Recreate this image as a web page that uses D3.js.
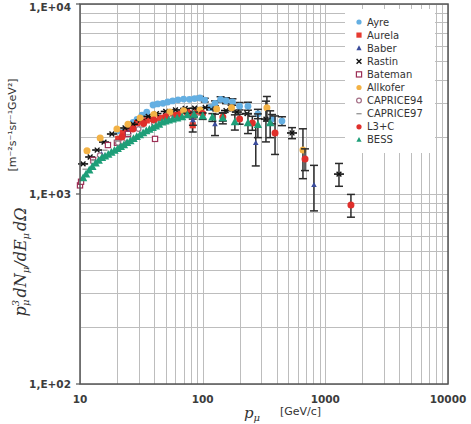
<!DOCTYPE html>
<html>
<head>
<meta charset="utf-8">
<script src="https://cdn.jsdelivr.net/npm/d3@7"></script>
<style>
  body { margin: 0; background: #fff; }
  svg { display: block; }
</style>
</head>
<body>
<div id="chart"></div>
<script>
// Each row: [momentum p (GeV/c), p^3 dN/dE dOmega (m^-2 s^-1 sr^-1 GeV^2), error]
const ayre = [[20.4,2150,0],[22.4,2110,0],[24.6,2250,0],[27.1,2380,0],[29.2,2470,0],[32,2600,0],[35,2700,0],
  [39.4,2940,0],[43,2980,0],[47.5,3000,0],[52,3050,0],[57,3090,0],[63,3130,0],[70,3160,0],[78,3150,0],
  [86,3180,0],[95,3200,60],[104,3120,70],[115,2850,80],[126,3000,90],[140,3150,100],[155,3100,110],
  [175,3050,120],[200,2900,130],[234,2900,140],[282,2640,150],[368,2480,140],[443,2420,130]];
const aurela = [[20.5,1950,0],[22.4,2095,0],[24.6,2180,0],[27.1,2280,0],[29.2,2364,0],[32,2410,0],[35,2440,0],
  [39,2480,0],[44.9,2512,0],[50,2560,0],[57.4,2605,0],[65,2650,0],[74.5,2700,0],[83,2300,180],[89.8,2700,0]];
const baber = [[15,1620,0],[25,2120,0],[40,2430,0],[60,2560,0],[83.3,2450,150],[126,2330,300],[271,1855,450],[808,1115,300]];
const rastin = [[10.6,1440,0],[12.1,1566,0],[13.8,1704,0],[15.7,1877,0],[18.2,2069,0],[23.3,2225,0],[27,2330,0],
  [31,2450,0],[36,2560,0],[42,2650,0],[50,2720,0],[60,2770,0],[72,2820,0],[86,2830,0],[105,2850,0],
  [126,2800,0],[155,2750,0],[190,2700,0],[230,2650,0],[328,2480,600],[535,2095,140],[1292,1273,175]];
const bateman = [[10,1110,0],[10.2,1160,0],[12.8,1510,0],[16.9,1810,0],[20,1860,0],[24.6,2070,0],[40.9,1950,0]];
const allkofer = [[11.4,1690,0],[14.6,1970,0],[20,2200,0],[24.6,2330,0],[30.9,2510,0],[40,2620,0],[54,2700,0],
  [70,2740,0],[95,2770,0],[130,2800,0],[172,2840,90],[334,2840,420],[657,1704,500]];
const caprice94 = [[12.8,1480,0],[14.5,1600,0],[20.4,1855,0],[22.4,1877,0],[30,2200,0],[40,2350,0],[55,2500,0]];
const caprice97 = [[11,1350,0],[13,1500,0],[16,1700,0],[20,1900,0],[25,2050,0],[32,2250,0],[42,2400,0],
  [55,2500,0],[70,2550,0],[90,2600,0]];
const l3c = [[22,2000,0],[27,2200,0],[33,2350,0],[40,2450,0],[50,2550,0],[62,2600,0],[78,2650,0],[100,2650,0],
  [146,2540,120],[200,2480,150],[254,2364,200],[389,2095,480],[683,1528,200],[1617,875,120]];
const bess = [[10.6,1214,0],[11.2,1270,0],[11.9,1330,0],[12.6,1390,0],[13.4,1450,0],[14.2,1500,0],[15.1,1550,0],
  [16.0,1580,0],[17.0,1610,0],[18.0,1650,0],[19.1,1690,0],[20.3,1730,0],[21.5,1770,0],[22.8,1810,0],
  [24.2,1860,0],[25.7,1900,0],[27.3,1950,0],[29.0,2000,0],[30.8,2040,0],[32.7,2090,0],[34.7,2140,0],
  [36.8,2180,0],[39.1,2230,0],[41.5,2270,0],[44.1,2320,0],[46.8,2380,0],[49.7,2410,0],[53,2440,0],
  [57,2470,0],[62,2500,0],[68,2540,0],[75,2600,60],[85,2620,80],[100,2570,100],[120,2530,120],
  [146,2510,170],[183,2390,220],[234,2360,280],[282,2310,330],[355,2360,380]];

const xTickLabels = ['10', '100', '1000', '10000'];
const yTickLabels = ['1,E+02', '1,E+03', '1,E+04'];

// Marker styling per data set, in legend order (later ones draw on top).
const series = [
  {name: 'Ayre', data: ayre, shape: 'circle', color: '#64afe2', r: 3.4},
  {name: 'Aurela', data: aurela, shape: 'square', color: '#e63a31', r: 3.1},
  {name: 'Baber', data: baber, shape: 'triangle', color: '#3b4c9c', r: 2.8},
  {name: 'Rastin', data: rastin, shape: 'x', color: '#111', r: 2.4},
  {name: 'Bateman', data: bateman, shape: 'osquare', color: '#9c2f55', r: 2.6},
  {name: 'Allkofer', data: allkofer, shape: 'circle', color: '#f3b245', r: 3.5},
  {name: 'CAPRICE94', data: caprice94, shape: 'ocircle', color: '#a56f86', r: 2.4},
  {name: 'CAPRICE97', data: caprice97, shape: 'dash', color: '#9a9a9a', r: 2.6},
  {name: 'L3+C', data: l3c, shape: 'circle', color: '#df2f2b', r: 3.5},
  {name: 'BESS', data: bess, shape: 'triangle', color: '#1e9e78', r: 4.2}
];

const W = 471, H = 424;
const m = {left: 80, right: 448, top: 4, bottom: 384};

const svg = d3.select('#chart').append('svg').attr('width', W).attr('height', H);

const x = d3.scaleLog().domain([10, 10000]).range([m.left, m.right]);
const y = d3.scaleLog().domain([100, 10000]).range([m.bottom, m.top]);

// Grid at every 1..9 multiple in both directions.
const grid = svg.append('g').attr('stroke', '#bdbdbd').attr('stroke-width', 1);
grid.selectAll('line.vx').data(x.ticks()).join('line')
  .attr('x1', d => Math.round(x(d)) + 0.5).attr('x2', d => Math.round(x(d)) + 0.5)
  .attr('y1', m.top).attr('y2', m.bottom);
grid.selectAll('line.hy').data(y.ticks()).join('line')
  .attr('y1', d => Math.round(y(d)) + 0.5).attr('y2', d => Math.round(y(d)) + 0.5)
  .attr('x1', m.left).attr('x2', m.right);

// Legend panel sits over the grid.
const legX = 345, legY = 9, legRow = 13.1;
svg.append('rect').attr('x', legX).attr('y', legY).attr('width', 90).attr('height', 144).attr('fill', '#fff');

function drawMarker(g, shape, color, r) {
  if (shape === 'circle') {
    g.append('circle').attr('r', r).attr('fill', color);
  } else if (shape === 'ocircle') {
    g.append('circle').attr('r', r).attr('fill', '#fff').attr('stroke', color).attr('stroke-width', 1.2);
  } else if (shape === 'square') {
    g.append('rect').attr('x', -r).attr('y', -r).attr('width', 2 * r).attr('height', 2 * r).attr('fill', color);
  } else if (shape === 'osquare') {
    g.append('rect').attr('x', -r).attr('y', -r).attr('width', 2 * r).attr('height', 2 * r)
      .attr('fill', '#fff').attr('stroke', color).attr('stroke-width', 1.2);
  } else if (shape === 'triangle') {
    g.append('path').attr('d', `M0,${-r * 1.1}L${r},${r * 0.75}L${-r},${r * 0.75}Z`).attr('fill', color);
  } else if (shape === 'x') {
    g.append('path').attr('d', `M${-r},${-r}L${r},${r}M${-r},${r}L${r},${-r}`)
      .attr('stroke', color).attr('stroke-width', 1.4);
  } else if (shape === 'dash') {
    g.append('line').attr('x1', -r).attr('x2', r).attr('stroke', color).attr('stroke-width', 1.4);
  }
}

const plot = svg.append('g');
series.forEach(s => {
  const g = plot.append('g').attr('class', 'series');
  // Vertical error bars with caps.
  const errs = s.data.filter(d => d[2] > 0);
  const eb = g.selectAll('g.err').data(errs).join('g').attr('class', 'err')
    .attr('stroke', '#2b2b2b').attr('stroke-width', 1.5);
  eb.append('line')
    .attr('x1', d => x(d[0])).attr('x2', d => x(d[0]))
    .attr('y1', d => y(d[1] + d[2])).attr('y2', d => y(d[1] - d[2]));
  eb.append('line')
    .attr('x1', d => x(d[0]) - 4).attr('x2', d => x(d[0]) + 4)
    .attr('y1', d => y(d[1] + d[2])).attr('y2', d => y(d[1] + d[2]));
  eb.append('line')
    .attr('x1', d => x(d[0]) - 4).attr('x2', d => x(d[0]) + 4)
    .attr('y1', d => y(d[1] - d[2])).attr('y2', d => y(d[1] - d[2]));
  // Rastin points carry short momentum-bin bars.
  if (s.shape === 'x') {
    g.selectAll('line.bin').data(s.data).join('line').attr('class', 'bin')
      .attr('x1', d => x(d[0]) - 5).attr('x2', d => x(d[0]) + 5)
      .attr('y1', d => y(d[1])).attr('y2', d => y(d[1]))
      .attr('stroke', '#111').attr('stroke-width', 1.6);
  }
  g.selectAll('g.pt').data(s.data).join('g').attr('class', 'pt')
    .attr('transform', d => `translate(${x(d[0])},${y(d[1])})`)
    .each(function() { drawMarker(d3.select(this), s.shape, s.color, s.r); });
});

// Frame
svg.append('rect').attr('x', m.left).attr('y', m.top)
  .attr('width', m.right - m.left).attr('height', m.bottom - m.top)
  .attr('fill', 'none').attr('stroke', '#555').attr('stroke-width', 1.5);

// Axis ticks and labels
const tickFont = 'DejaVu Sans, Verdana, sans-serif';
const yMajor = [100, 1000, 10000];
svg.selectAll('line.ytick').data(yMajor).join('line')
  .attr('x1', m.left - 4).attr('x2', m.left).attr('y1', d => y(d)).attr('y2', d => y(d))
  .attr('stroke', '#555').attr('stroke-width', 1.2);
svg.selectAll('text.ylab').data(yMajor).join('text')
  .attr('x', 71).attr('y', d => Math.max(y(d), 7)).attr('dy', '0.35em')
  .attr('text-anchor', 'end').attr('font-family', tickFont).attr('font-weight', 'bold')
  .attr('font-size', 10.5).attr('fill', '#3c3c3c')
  .text((d, i) => yTickLabels[i]);

const xMajor = [10, 100, 1000, 10000];
svg.selectAll('text.xlab').data(xMajor).join('text')
  .attr('x', d => x(d)).attr('y', 403)
  .attr('text-anchor', 'middle').attr('font-family', tickFont).attr('font-weight', 'bold')
  .attr('font-size', 10.5).attr('fill', '#3c3c3c')
  .text((d, i) => xTickLabels[i]);

// X axis title
const xt = svg.append('text').attr('x', 244).attr('y', 418).attr('fill', '#333');
xt.append('tspan').attr('font-family', 'DejaVu Serif, serif').attr('font-style', 'italic').attr('font-size', 15).text('p');
xt.append('tspan').attr('font-family', 'DejaVu Serif, serif').attr('font-style', 'italic').attr('font-size', 10).attr('dy', 3).text('μ');
svg.append('text').attr('x', 280).attr('y', 415).attr('fill', '#333')
  .attr('font-family', tickFont).attr('font-size', 11).text('[GeV/c]');

// Y axis titles
svg.append('text').attr('transform', 'translate(16,125) rotate(-90)')
  .attr('text-anchor', 'middle').attr('fill', '#333')
  .attr('font-family', tickFont).attr('font-size', 11).text('[m⁻²s⁻¹sr⁻¹GeV²]');

const yt = svg.append('text').attr('transform', 'translate(26,262) rotate(-90)')
  .attr('text-anchor', 'middle').attr('fill', '#333')
  .attr('font-family', 'DejaVu Serif, serif').attr('font-style', 'italic').attr('font-size', 16);
yt.append('tspan').text('p');
yt.append('tspan').attr('font-size', 10).attr('dy', -7).text('3');
yt.append('tspan').attr('font-size', 10).attr('dx', -6).attr('dy', 10).text('μ');
yt.append('tspan').attr('dy', -3).attr('dx', 2).text('dN');
yt.append('tspan').attr('font-size', 10).attr('dy', 3).text('μ');
yt.append('tspan').attr('dy', -3).text('/dE');
yt.append('tspan').attr('font-size', 10).attr('dy', 3).text('μ');
yt.append('tspan').attr('dy', -3).attr('dx', 2).text('dΩ');

// Legend entries
const leg = svg.append('g');
series.forEach((s, i) => {
  const row = leg.append('g').attr('transform', `translate(${legX + 14},${legY + 13 + i * legRow})`);
  drawMarker(row.append('g'), s.shape, s.color, Math.min(s.r, 2.6));
  row.append('text').attr('x', 8).attr('dy', '0.35em')
    .attr('font-family', tickFont).attr('font-size', 10).attr('fill', '#333').text(s.name);
});
</script>
</body>
</html>
